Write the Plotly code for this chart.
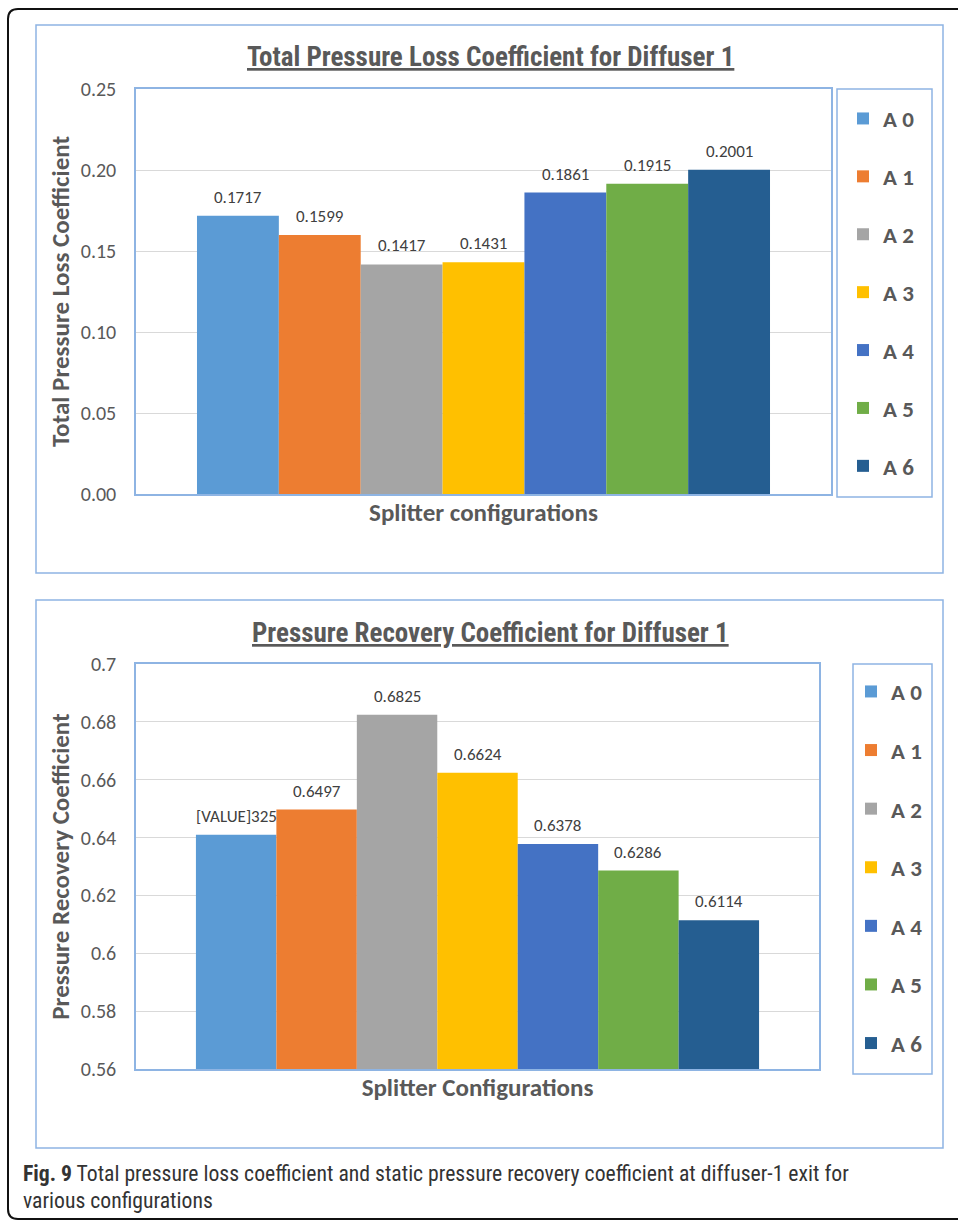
import plotly.graph_objects as go

# ---- data ---------------------------------------------------------------
series = ["A 0", "A 1", "A 2", "A 3", "A 4", "A 5", "A 6"]
colors = ["#5B9BD5", "#ED7D31", "#A5A5A5", "#FFC000", "#4472C4", "#70AD47", "#255E91"]

loss_values = [0.1717, 0.1599, 0.1417, 0.1431, 0.1861, 0.1915, 0.2001]
loss_labels = ["0.1717", "0.1599", "0.1417", "0.1431", "0.1861", "0.1915", "0.2001"]

recovery_values = [0.641, 0.6497, 0.6825, 0.6624, 0.6378, 0.6286, 0.6114]
recovery_labels = ["[VALUE]325", "0.6497", "0.6825", "0.6624", "0.6378", "0.6286", "0.6114"]

loss_ticks = [0.00, 0.05, 0.10, 0.15, 0.20, 0.25]
recovery_ticks = [0.56, 0.58, 0.6, 0.62, 0.64, 0.66, 0.68, 0.7]

# ---- page geometry (pixels -> paper fractions) --------------------------
W, H = 958, 1220


def px(x):
    return x / W


def py(y):
    return 1 - y / H


FONT = "Carlito, Calibri, Lato, sans-serif"
NARROW = "Liberation Sans Narrow, Arial Narrow, Roboto Condensed, sans-serif"
GREY = "#595959"
BLUE = "#8EB4E3"
GRID = "#D9D9D9"

fig = go.Figure()

# bars: one trace per configuration, so each gets its own legend entry
for i, name in enumerate(series):
    fig.add_trace(go.Bar(
        x=[i], y=[loss_values[i]], name=name, width=1,
        marker=dict(color=colors[i], line=dict(width=0)),
        xaxis="x", yaxis="y", legend="legend", legendgroup="top%d" % i,
        hoverinfo="y",
    ))
for i, name in enumerate(series):
    fig.add_trace(go.Bar(
        x=[i], y=[recovery_values[i]], name=name, width=1,
        marker=dict(color=colors[i], line=dict(width=0)),
        xaxis="x2", yaxis="y2", legend="legend2", legendgroup="bot%d" % i,
        hoverinfo="y",
    ))

annotations = []
# value labels above each bar
for i in range(len(series)):
    annotations.append(dict(
        x=i, y=loss_values[i], xref="x", yref="y", text=loss_labels[i],
        showarrow=False, yanchor="bottom", yshift=6,
        font=dict(family=FONT, size=17, color="#404040"),
    ))
    annotations.append(dict(
        x=i, y=recovery_values[i], xref="x2", yref="y2", text=recovery_labels[i],
        showarrow=False, yanchor="bottom", yshift=6,
        font=dict(family=FONT, size=17, color="#404040"),
    ))

# chart titles (underlined)
for text, yc in [("Total Pressure Loss Coefficient for Diffuser 1", 57),
                 ("Pressure Recovery Coefficient for Diffuser 1", 633)]:
    annotations.append(dict(
        x=px(490), y=py(yc), xref="paper", yref="paper", text="<b>%s</b>" % text,
        showarrow=False, xanchor="center", yanchor="middle",
        font=dict(family=NARROW, size=27, color=GREY, lineposition="under"),
    ))

# figure caption
annotations.append(dict(
    x=px(21), y=py(1173), xref="paper", yref="paper",
    text="<b>Fig. 9</b> Total pressure loss coefficient and static pressure recovery coefficient at diffuser-1 exit for",
    showarrow=False, xanchor="left", yanchor="middle",
    font=dict(family=NARROW, size=21.7, color="#333333"),
))
annotations.append(dict(
    x=px(21), y=py(1200), xref="paper", yref="paper",
    text="various configurations",
    showarrow=False, xanchor="left", yanchor="middle",
    font=dict(family=NARROW, size=21.7, color="#333333"),
))

r = 10
frame_path = (
    "M %f %f L %f %f Q %f %f %f %f L %f %f Q %f %f %f %f L %f %f" % (
        px(970), py(9),
        px(8 + r), py(9),
        px(8), py(9), px(8), py(9 + r),
        px(8), py(1219 - r),
        px(8), py(1219), px(8 + r), py(1219),
        px(970), py(1219),
    )
)

shapes = [
    # outer rounded frame
    dict(type="path", xref="paper", yref="paper", path=frame_path,
         line=dict(color="#111111", width=2)),
    # chart frames
    dict(type="rect", xref="paper", yref="paper",
         x0=px(36), x1=px(943), y0=py(25), y1=py(573),
         line=dict(color=BLUE, width=1.5)),
    dict(type="rect", xref="paper", yref="paper",
         x0=px(36), x1=px(943), y0=py(600), y1=py(1148),
         line=dict(color=BLUE, width=1.5)),
    # legend boxes
    dict(type="rect", xref="paper", yref="paper",
         x0=px(837), x1=px(932), y0=py(89), y1=py(497),
         line=dict(color=BLUE, width=1.5)),
    dict(type="rect", xref="paper", yref="paper",
         x0=px(853), x1=px(932), y0=py(664), y1=py(1074),
         line=dict(color=BLUE, width=1.5)),
]

xaxis_common = dict(
    range=[-1.245, 7.245], showticklabels=False, ticks="", showgrid=False,
    zeroline=False, showline=True, mirror=True, linecolor=BLUE, linewidth=1.5,
    fixedrange=True, automargin=False,
)
yaxis_common = dict(
    showgrid=True, gridcolor=GRID, gridwidth=1.3, zeroline=False,
    showline=True, mirror=True, linecolor=BLUE, linewidth=1.5,
    ticks="", ticklabelstandoff=14,
    tickfont=dict(family=FONT, size=20, color=GREY),
    fixedrange=True, automargin=False,
)

legend_common = dict(
    bgcolor="rgba(0,0,0,0)", borderwidth=0, traceorder="grouped",
    xanchor="left", yanchor="top",
    font=dict(family=FONT, size=23, color=GREY, weight="bold"),
    itemclick=False, itemdoubleclick=False,
)

fig.update_layout(
    width=W, height=H, margin=dict(l=0, r=0, t=0, b=0, pad=0, autoexpand=False),
    paper_bgcolor="white", plot_bgcolor="white",
    barmode="overlay", showlegend=True,
    xaxis=dict(xaxis_common, domain=[px(136), px(831)], anchor="y",
               title=dict(text="<b>Splitter configurations</b>", standoff=9,
                          font=dict(family=FONT, size=25, color=GREY))),
    yaxis=dict(yaxis_common, domain=[py(494), py(89)], anchor="x",
               range=[0, 0.25], tickvals=loss_ticks, tickformat=".2f",
               title=dict(text="<b>Total Pressure Loss Coefficient</b>", standoff=4,
                          font=dict(family=FONT, size=25, color=GREY))),
    xaxis2=dict(xaxis_common, domain=[px(136), px(819)], anchor="y2",
                title=dict(text="<b>Splitter Configurations</b>", standoff=9,
                           font=dict(family=FONT, size=25, color=GREY))),
    yaxis2=dict(yaxis_common, domain=[py(1069), py(664)], anchor="x2",
                range=[0.56, 0.7], tickvals=recovery_ticks,
                title=dict(text="<b>Pressure Recovery Coefficient</b>", standoff=4,
                           font=dict(family=FONT, size=25, color=GREY))),
    legend=dict(legend_common, x=px(843), y=py(97), tracegroupgap=25),
    legend2=dict(legend_common, x=px(851), y=py(670), tracegroupgap=25.7),
    annotations=annotations,
    shapes=shapes,
)

fig.write_html("out.html")
